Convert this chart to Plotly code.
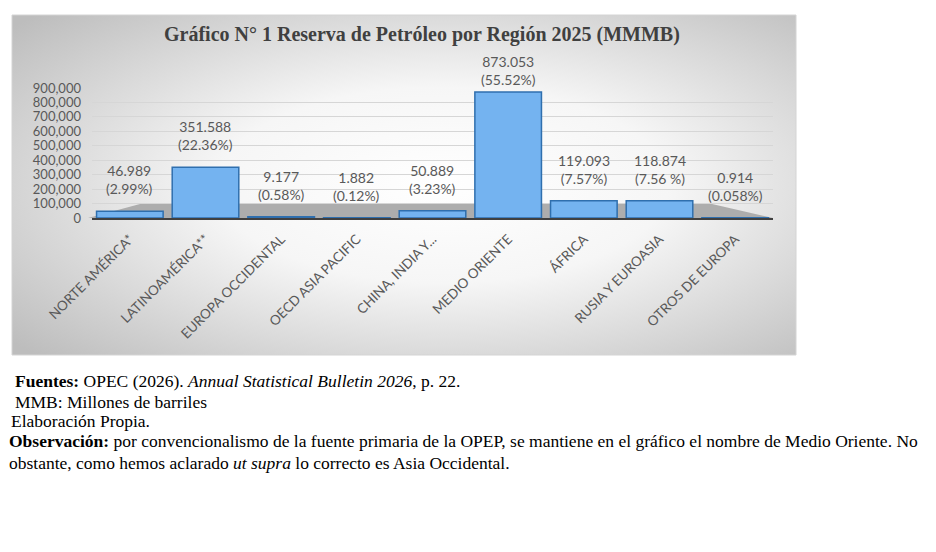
import base64
import plotly.graph_objects as go

regiones = ['NORTE AMÉRICA*', 'LATINOAMÉRICA**', 'EUROPA OCCIDENTAL', 'OECD ASIA PACIFIC',
            'CHINA, INDIA Y...', 'MEDIO ORIENTE', 'ÁFRICA', 'RUSIA Y EUROASIA', 'OTROS DE EUROPA']
reservas = [46989, 351588, 9177, 1882, 50889, 873053, 119093, 118874, 914]
etiquetas = ['46.989', '351.588', '9.177', '1.882', '50.889', '873.053', '119.093', '118.874', '0.914']
porcentajes = ['(2.99%)', '(22.36%)', '(0.58%)', '(0.12%)', '(3.23%)', '(55.52%)', '(7.57%)', '(7.56 %)', '(0.058%)']
y_ticks = [0, 100000, 200000, 300000, 400000, 500000, 600000, 700000, 800000, 900000]

W, H = 936, 552
gris = '#595959'
OFF = 8  # margen del body de la pagina

def px(x): return (x - OFF) / W
def py(y): return 1 - (y - OFF) / H

# fondo degradado del recuadro del grafico (estilo Excel)
svg = ("<svg xmlns='http://www.w3.org/2000/svg' width='784' height='340'>"
       "<defs><radialGradient id='g' cx='0.55' cy='0.5' r='0.72'>"
       "<stop offset='0' stop-color='#ffffff'/><stop offset='0.4' stop-color='#f6f6f6'/>"
       "<stop offset='1' stop-color='#bdbdbd'/></radialGradient></defs>"
       "<rect width='784' height='340' fill='url(#g)'/></svg>")
fondo = 'data:image/svg+xml;base64,' + base64.b64encode(svg.encode()).decode()

# piso gris bajo las barras
piso = 'M {} {} L {} {} L {} {} L {} {} Z'.format(px(88), py(218), px(773), py(218),
                                                  px(712), py(204), px(140), py(204))

fig = go.Figure()
fig.add_trace(go.Bar(
    x=regiones, y=reservas,
    marker=dict(color='#74b3f0', line=dict(color='#2f6fae', width=1.5)),
    hoverinfo='skip'
))

# etiquetas de datos sobre cada barra (la mas alta, mas pegada para no tocar el titulo)
annotations = [dict(text=f'{a}<br>{b}', x=r, y=v, xref='x', yref='y', yanchor='bottom',
                    yshift=2 if v > 800000 else 12, showarrow=False,
                    font=dict(family='Lato', size=14, color=gris))
               for r, v, a, b in zip(regiones, reservas, etiquetas, porcentajes)]

notas = [
    (13, 381, '<b>Fuentes:</b> OPEC (2026). <i>Annual Statistical Bulletin 2026</i>, p. 22.'),
    (13, 402, 'MMB: Millones de barriles'),
    (9, 421, 'Elaboración Propia.'),
    (7, 441, '<b>Observación:</b> por convencionalismo de la fuente primaria de la OPEP, se mantiene en el gráfico el nombre de Medio Oriente. No'),
    (7, 463, 'obstante, como hemos aclarado <i>ut supra</i> lo correcto es Asia Occidental.'),
]
annotations += [dict(text=t, x=px(x), y=py(y), xref='paper', yref='paper', xanchor='left',
                     yanchor='middle', showarrow=False,
                     font=dict(family='Liberation Serif', size=17.5, color='black'))
                for x, y, t in notas]
annotations.append(dict(text='<b>Gráfico N° 1 Reserva de Petróleo por Región 2025 (MMMB)</b>',
                        x=px(422), y=py(35), xref='paper', yref='paper', showarrow=False,
                        xanchor='center', yanchor='middle',
                        font=dict(family='Liberation Serif', size=20, color='#404040')))

fig.update_layout(
    width=W, height=H, margin=dict(l=0, r=0, t=0, b=0, autoexpand=False),
    paper_bgcolor='white', plot_bgcolor='rgba(0,0,0,0)',
    showlegend=False, bargap=0.12,
    images=[dict(source=fondo, xref='paper', yref='paper', x=px(12), y=py(15),
                 sizex=px(796) - px(12), sizey=py(15) - py(355), sizing='stretch', layer='below')],
    shapes=[dict(type='rect', xref='paper', yref='paper', x0=px(12), x1=px(796),
                 y0=py(355), y1=py(15), line=dict(color='#d4d4d4', width=1), layer='below'),
            dict(type='path', xref='paper', yref='paper', path=piso, fillcolor='#adadad',
                 line=dict(width=0), layer='below')],
    xaxis=dict(domain=[px(92), px(773)], tickangle=-45, showline=True, linecolor='#404040',
               linewidth=2, ticks='', automargin=False, ticklabelstandoff=6,
               tickfont=dict(family='Lato', size=13.5, color=gris)),
    yaxis=dict(domain=[py(218), py(88)], range=[0, 900000], tickvals=y_ticks, tickformat=',d',
               showgrid=True, gridcolor='#d6d6d6', zeroline=False, ticks='', automargin=False,
               ticklabelstandoff=10, tickfont=dict(family='Lato', size=13, color=gris)),
    annotations=annotations,
)

fig.write_html('out.html')
